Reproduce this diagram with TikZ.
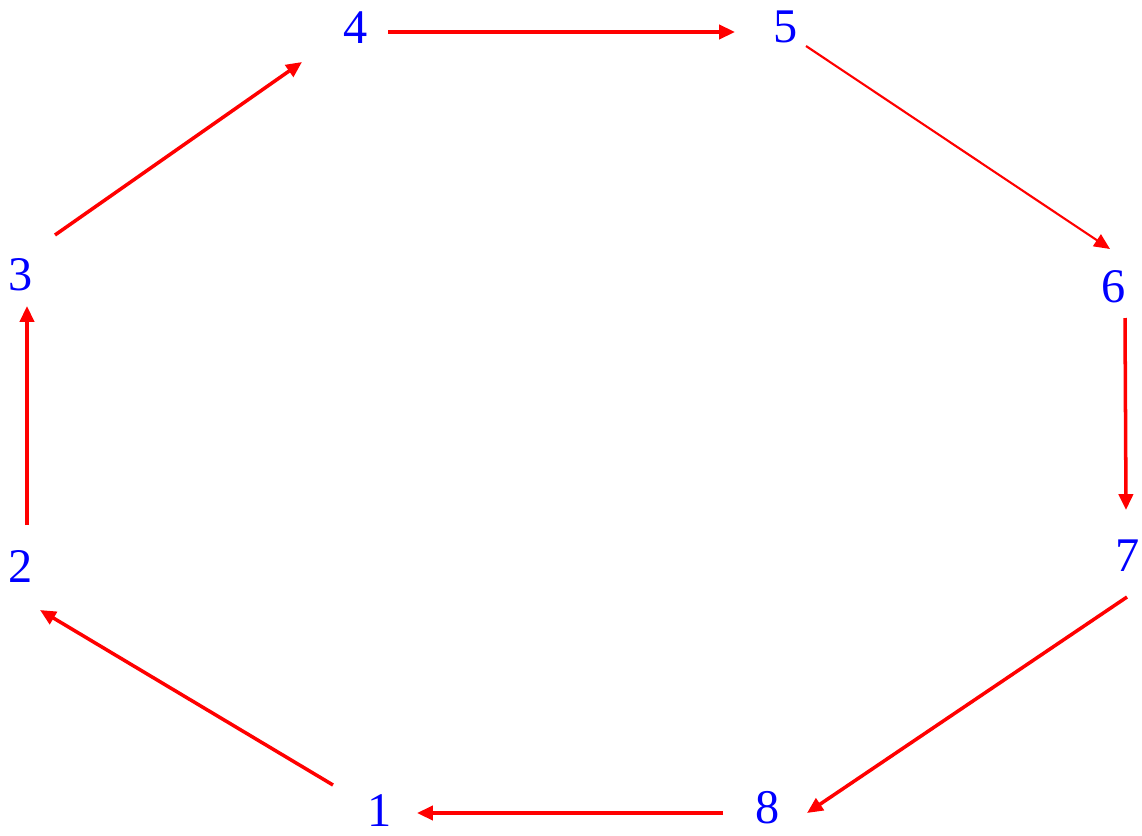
\documentclass[tikz,border=0pt]{standalone}
\usepackage{fontspec}
\setmainfont{Liberation Serif}
\usetikzlibrary{arrows.meta}
\begin{document}
\begin{tikzpicture}[x=0.02cm,y=-0.02cm,
  num/.style={text=blue, inner sep=2pt, font=\fontsize{27.5}{30}\selectfont},
  link/.style={draw=red, line width=2pt, -{Triangle[length=9pt,width=8pt]}}]
\useasboundingbox (0,0) rectangle (1142,835);

\node[num] (n1) at (380,811) {1};
\node[num] (n2) at (21,566) {2};
\node[num] (n3) at (21,275) {3};
\node[num] (n4) at (356,28) {4};
\node[num] (n5) at (786,27) {5};
\node[num] (n6) at (1114,287) {6};
\node[num] (n7) at (1128,556) {7};
\node[num] (n8) at (768,808) {8};

\draw[link] ([shift={(-47,-26)}]n1.center) -- ([shift={(19,44)}]n2.center);
\draw[link] ([shift={(6,-41)}]n2.center) -- ([shift={(6,31)}]n3.center);
\draw[link] ([shift={(34,-40)}]n3.center) -- ([shift={(-54,34)}]n4.center);
\draw[link] ([shift={(32,4)}]n4.center) -- ([shift={(-51,5)}]n5.center);
\draw[link, line width=1.2pt] ([shift={(20,19)}]n5.center) -- ([shift={(-4,-38)}]n6.center);
\draw[link] ([shift={(11,31)}]n6.center) -- ([shift={(-2,-46)}]n7.center);
\draw[link] ([shift={(-1,41)}]n7.center) -- ([shift={(39,5)}]n8.center);
\draw[link] ([shift={(-45,5)}]n8.center) -- ([shift={(37,2)}]n1.center);
\end{tikzpicture}
\end{document}
